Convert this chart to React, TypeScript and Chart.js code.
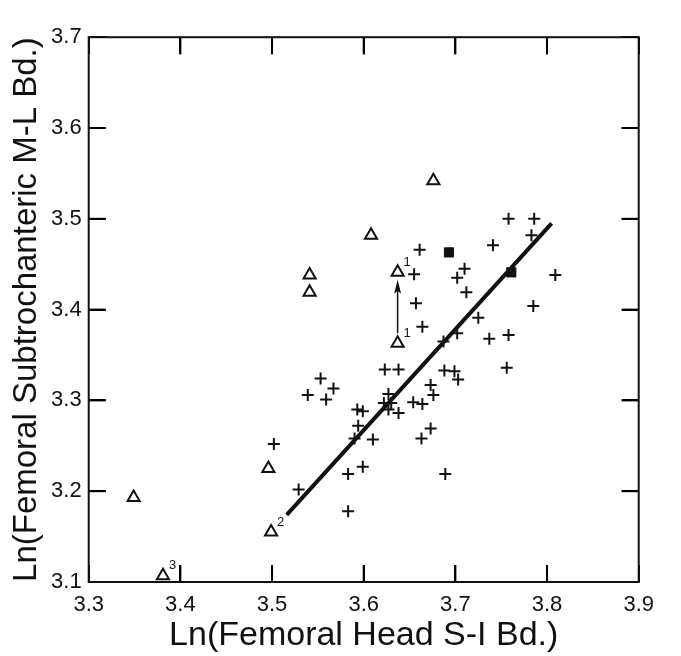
import React, { useEffect, useRef } from 'react';
import { Chart, registerables } from 'chart.js';
Chart.register(...registerables);

// Axis ticks
const xTickValues = [3.3, 3.4, 3.5, 3.6, 3.7, 3.8, 3.9];
const yTickValues = [3.1, 3.2, 3.3, 3.4, 3.5, 3.6, 3.7];
const xTitle = 'Ln(Femoral Head S-I Bd.)';
const yTitle = 'Ln(Femoral Subtrochanteric M-L Bd.)';

// "+" series
const plusX = [3.758, 3.786, 3.783, 3.661, 3.741, 3.655, 3.710, 3.702, 3.712, 3.657,
  3.809, 3.785, 3.725, 3.664, 3.702, 3.687, 3.737, 3.758, 3.756, 3.623,
  3.638, 3.688, 3.699, 3.703, 3.673, 3.676, 3.627, 3.622, 3.630, 3.627,
  3.638, 3.654, 3.664, 3.599, 3.593, 3.594, 3.590, 3.610, 3.673, 3.663,
  3.689, 3.599, 3.583, 3.583, 3.553, 3.567, 3.539, 3.559, 3.502, 3.529];
const plusY = [3.500, 3.500, 3.482, 3.466, 3.471, 3.439, 3.445, 3.435, 3.419, 3.407,
  3.438, 3.404, 3.391, 3.381, 3.374, 3.365, 3.368, 3.372, 3.336, 3.334,
  3.334, 3.333, 3.332, 3.323, 3.317, 3.306, 3.307, 3.297, 3.297, 3.290,
  3.286, 3.298, 3.296, 3.288, 3.290, 3.272, 3.258, 3.257, 3.269, 3.258,
  3.219, 3.227, 3.219, 3.178, 3.324, 3.313, 3.306, 3.301, 3.252, 3.202];

// open triangle series
const triX = [3.541, 3.541, 3.608, 3.676, 3.637, 3.637, 3.496, 3.499, 3.349, 3.381];
const triY = [3.438, 3.419, 3.482, 3.542, 3.441, 3.363, 3.225, 3.155, 3.193, 3.107];
const triNotes = ['', '', '', '', '1', '1', '', '2', '', '3'];

// filled square series
const squareX = [3.693, 3.761];
const squareY = [3.463, 3.441];

// regression line
const fitX = [3.516, 3.805];
const fitY = [3.174, 3.495];

// arrow (from, to)
const arrowX = [3.637, 3.637];
const arrowY = [3.374, 3.433];

const INK = '#111';
const FONT = "'Liberation Sans', Arial, sans-serif";
const TICK_LEN = 17;

const toPts = (xs: number[], ys: number[]) => xs.map((x, i) => ({ x, y: ys[i] }));

// native inward tick marks (negative tick length), no grid lines
const inwardGrid = {
  display: true,
  drawOnChartArea: false,
  drawTicks: true,
  tickLength: -TICK_LEN,
  color: '#000',
  lineWidth: 2,
};

const framePlugin = {
  id: 'frameTicks',
  afterDraw(chart: any) {
    const ctx = chart.ctx;
    const a = chart.chartArea;
    const xs = chart.scales['x'];
    const ys = chart.scales['y'];
    ctx.save();
    ctx.fillStyle = '#000';
    for (let i = 1; i < xTickValues.length - 1; i++) {
      const px = Number(xs.getPixelForValue(xTickValues[i]));
      ctx.fillRect(px - 1, a.bottom - TICK_LEN, 2, TICK_LEN);
      ctx.fillRect(px - 1, a.top, 2, TICK_LEN);
    }
    for (let i = 1; i < yTickValues.length - 1; i++) {
      const py = Number(ys.getPixelForValue(yTickValues[i]));
      ctx.fillRect(a.left, py - 1, TICK_LEN, 2);
      ctx.fillRect(a.right - TICK_LEN, py - 1, TICK_LEN, 2);
    }
    // frame
    ctx.strokeStyle = INK;
    ctx.lineWidth = 2;
    ctx.strokeRect(a.left, a.top, a.right - a.left, a.bottom - a.top);
    // arrow
    const x0 = xs.getPixelForValue(arrowX[0]);
    const y0 = ys.getPixelForValue(arrowY[0]);
    const x1 = xs.getPixelForValue(arrowX[1]);
    const y1 = ys.getPixelForValue(arrowY[1]);
    ctx.fillStyle = INK;
    ctx.lineWidth = 1.5;
    ctx.beginPath();
    ctx.moveTo(x0, y0);
    ctx.lineTo(x1, y1 + 10);
    ctx.stroke();
    ctx.beginPath();
    ctx.moveTo(x1, y1);
    ctx.lineTo(x1 - 3.5, y1 + 14);
    ctx.lineTo(x1, y1 + 11);
    ctx.lineTo(x1 + 3.5, y1 + 14);
    ctx.closePath();
    ctx.fill();
    // superscript notes
    ctx.font = `13px ${FONT}`;
    ctx.textAlign = 'left';
    ctx.textBaseline = 'middle';
    triNotes.forEach((t, i) => {
      if (!t) return;
      const px = xs.getPixelForValue(triX[i]);
      const py = ys.getPixelForValue(triY[i]);
      ctx.fillText(t, px + 6, py - 10);
    });
    ctx.restore();
  },
};

export default function App() {
  const ref = useRef<HTMLCanvasElement | null>(null);
  useEffect(() => {
    if (!ref.current) return;
    const chart = new Chart(ref.current, {
      type: 'scatter',
      data: {
        datasets: [
          {
            type: 'line',
            data: toPts(fitX, fitY),
            borderColor: INK,
            borderWidth: 4,
            pointRadius: 0,
            fill: false,
          } as any,
          {
            data: toPts(plusX, plusY),
            pointStyle: 'cross',
            pointRadius: 6,
            borderColor: INK,
            borderWidth: 2,
          },
          {
            data: toPts(triX, triY),
            pointStyle: 'triangle',
            pointRadius: 7,
            borderColor: INK,
            backgroundColor: 'rgba(0,0,0,0)',
            borderWidth: 2,
          },
          {
            data: toPts(squareX, squareY),
            pointStyle: 'rect',
            pointRadius: 6.5,
            borderColor: INK,
            backgroundColor: INK,
            borderWidth: 1,
          },
        ],
      },
      options: {
        responsive: false,
        animation: false,
        devicePixelRatio: 1,
        layout: { padding: { top: 18.4, right: 30, bottom: 0, left: 0 } },
        plugins: { legend: { display: false }, tooltip: { enabled: false } },
        scales: {
          x: {
            type: 'linear',
            position: 'bottom',
            min: 3.3,
            max: 3.9,
            grid: inwardGrid,
            border: { display: false },
            afterBuildTicks: (s: any) => { s.ticks = xTickValues.map((v) => ({ value: v })); },
            afterFit: (s: any) => { s.height = 74; },
            ticks: {
              padding: 10 + TICK_LEN,
              color: INK,
              font: { family: FONT, size: 22 },
              callback: (v: any) => Number(v).toFixed(1),
            },
            title: {
              display: true,
              text: xTitle,
              color: INK,
              font: { family: FONT, size: 34 },
              padding: { top: 0, bottom: 0 },
            },
          },
          x2: {
            type: 'linear',
            axis: 'x',
            position: 'top',
            min: 3.3,
            max: 3.9,
            grid: inwardGrid,
            border: { display: false },
            afterBuildTicks: (s: any) => { s.ticks = xTickValues.map((v) => ({ value: v })); },
            afterFit: (s: any) => { s.height = 0; },
            ticks: { display: false },
          },
          y: {
            type: 'linear',
            position: 'left',
            min: 3.1,
            max: 3.7,
            grid: inwardGrid,
            border: { display: false },
            afterBuildTicks: (s: any) => { s.ticks = yTickValues.map((v) => ({ value: v })); },
            afterFit: (s: any) => { s.width = 88.7; },
            ticks: {
              padding: 7 + TICK_LEN,
              color: INK,
              font: { family: FONT, size: 22 },
              callback: (v: any) => Number(v).toFixed(1),
            },
            title: {
              display: true,
              text: yTitle,
              color: INK,
              font: { family: FONT, size: 33 },
              padding: { top: 7, bottom: 0 },
            },
          },
          y2: {
            type: 'linear',
            axis: 'y',
            position: 'right',
            min: 3.1,
            max: 3.7,
            grid: inwardGrid,
            border: { display: false },
            afterBuildTicks: (s: any) => { s.ticks = yTickValues.map((v) => ({ value: v })); },
            afterFit: (s: any) => { s.width = 0; },
            ticks: { display: false },
          },
        },
      },
      plugins: [framePlugin],
    });
    return () => chart.destroy();
  }, []);
  return (
    <div style={{ position: 'fixed', left: 0, top: 0, width: 681, height: 656, background: '#fff' }}>
      <canvas ref={ref} width={681} height={656} style={{ display: 'block' }} />
    </div>
  );
}
